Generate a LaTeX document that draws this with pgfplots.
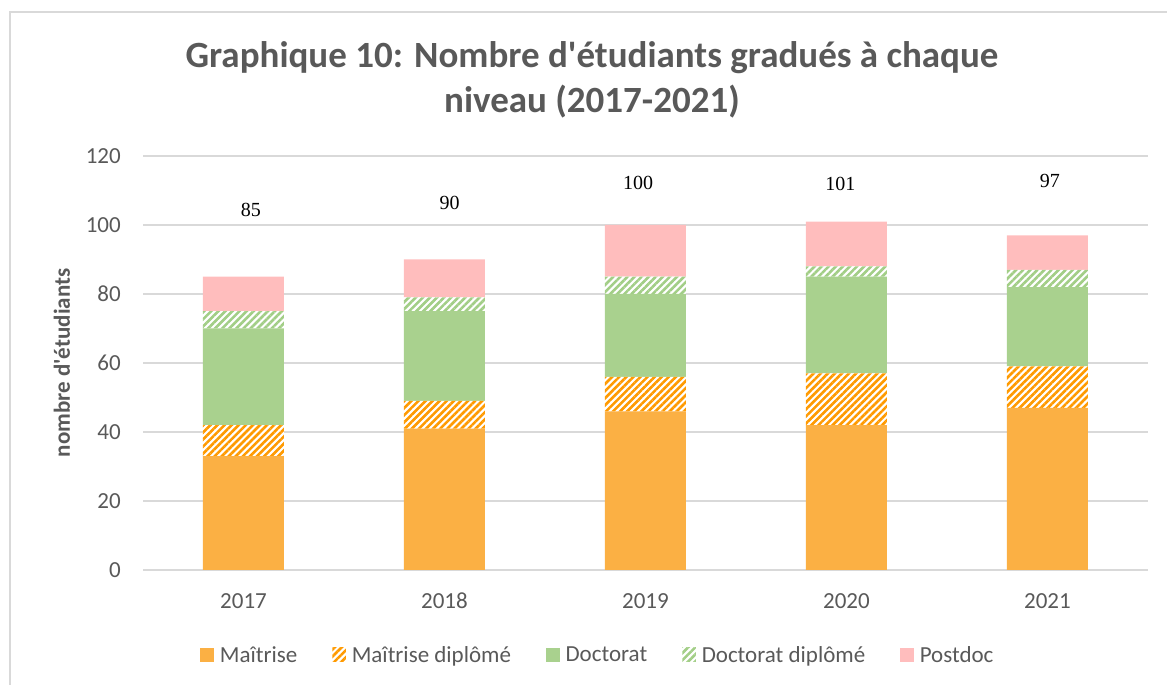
\documentclass[border=0pt]{standalone}
\usepackage{pgfplots}
\pgfplotsset{compat=1.18}
\usetikzlibrary{patterns.meta}
\usepackage{fontspec}
\setmainfont{Carlito}[Ligatures=TeXOff]
\newfontfamily\serifnum{Liberation Serif}
\definecolor{cMa}{HTML}{FBB044}
\definecolor{cMaH}{HTML}{FF9A00}
\definecolor{cDo}{HTML}{A9D18E}
\definecolor{cDoH}{HTML}{A2CE86}
\definecolor{cPo}{HTML}{FFBDBD}
\definecolor{cText}{HTML}{595959}
\definecolor{cGrid}{HTML}{D9D9D9}
\tikzset{
  hatchO/.style={fill=white, postaction={pattern={Lines[angle=45,distance=5pt,line width=2.6pt]}, pattern color=cMaH}},
  hatchG/.style={fill=white, postaction={pattern={Lines[angle=45,distance=5pt,line width=2.6pt]}, pattern color=cDoH}},
}
\begin{document}
\begin{tikzpicture}[x=1pt,y=1pt]
\useasboundingbox (0,0) rectangle (1167,685);
\draw[color=cGrid, line width=1.3pt] (10,-2) -- (10,673) -- (1169,673);
\node[font=\bfseries\fontsize{37}{44}\selectfont, text=cText, anchor=base] at (592,617) {Graphique 10: Nombre d'étudiants gradués à chaque};
\node[font=\bfseries\fontsize{37}{44}\selectfont, text=cText, anchor=base] at (592,572) {niveau (2017-2021)};
\node[font=\bfseries\fontsize{23}{27}\selectfont, text=cText, rotate=90] at (62,322) {nombre d'étudiants};
\begin{axis}[
  at={(143pt,115pt)}, anchor=south west,
  scale only axis, width=1005pt, height=414pt,
  ybar stacked, bar width=81pt,
  xmin=-0.5, xmax=4.5, ymin=0, ymax=120,
  xtick={0,1,2,3,4}, xticklabels={2017,2018,2019,2020,2021},
  ytick={0,20,40,60,80,100,120},
  ymajorgrids, grid style={color=cGrid, line width=1.3pt},
  axis line style={draw=none},
  major tick length=0pt,
  tick label style={font=\fontsize{23}{27}\selectfont, text=cText},
  /pgf/number format/assume math mode=true,
  yticklabel style={anchor=east, inner sep=0pt, xshift=-22pt},
  xticklabel style={anchor=north, inner sep=0pt, yshift=-23pt},
  legend columns=5,
  legend style={draw=none, fill=none, at={(0.4527,-0.2053)}, anchor=center,
    font=\fontsize{23}{27}\selectfont, text=cText,
    /tikz/every odd column/.append style={column sep=4pt},
    /tikz/every even column/.append style={column sep=33pt}},
  legend image code/.code={\draw[#1, draw=none] (0pt,-7pt) rectangle (13.5pt,7pt);},
]
\addplot[fill=cMa, draw=none] coordinates {(0,33) (1,41) (2,46) (3,42) (4,47)};
\addlegendentry{Maîtrise}
\addplot[hatchO, draw=none] coordinates {(0,9) (1,8) (2,10) (3,15) (4,12)};
\addlegendentry{Maîtrise diplômé}
\addplot[fill=cDo, draw=none] coordinates {(0,28) (1,26) (2,24) (3,28) (4,23)};
\addlegendentry{Doctorat}
\addplot[hatchG, draw=none] coordinates {(0,5) (1,4) (2,5) (3,3) (4,5)};
\addlegendentry{Doctorat diplômé}
\addplot[fill=cPo, draw=none] coordinates {(0,10) (1,11) (2,15) (3,13) (4,10)};
\addlegendentry{Postdoc}
\node[font=\serifnum\fontsize{20}{24}\selectfont] at (axis cs:0.037,104.4) {85};
\node[font=\serifnum\fontsize{20}{24}\selectfont] at (axis cs:1.025,106.3) {90};
\node[font=\serifnum\fontsize{20}{24}\selectfont] at (axis cs:1.963,112.1) {100};
\node[font=\serifnum\fontsize{20}{24}\selectfont] at (axis cs:2.97,111.9) {101};
\node[font=\serifnum\fontsize{20}{24}\selectfont] at (axis cs:4.012,112.8) {97};
\end{axis}
\end{tikzpicture}
\end{document}
